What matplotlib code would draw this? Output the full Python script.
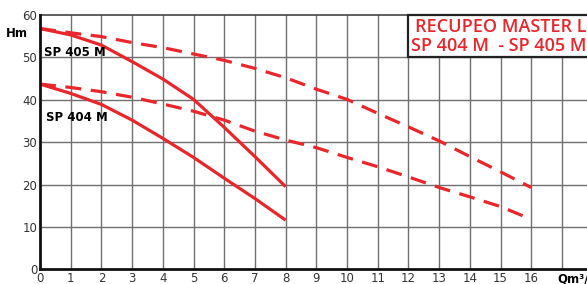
import matplotlib

matplotlib.use('Agg')
import matplotlib.pyplot as plt
from matplotlib.patches import Rectangle

# portate (m3/h) e prevalenze (m)
q_short = [0, 1, 2, 3, 4, 5, 6, 7, 8]
sp405_solid = [56.8, 55.3, 52.9, 49.0, 44.9, 40.1, 33.5, 26.6, 19.5]
sp404_solid = [43.7, 41.5, 38.9, 35.2, 30.9, 26.4, 21.5, 16.7, 11.6]

q_long = [0, 1, 2, 3, 4, 5, 6, 7, 8, 9, 10, 11, 12, 13, 14, 15, 16]
sp405_dash = [56.8, 55.8, 54.9, 53.5, 52.3, 50.8, 49.3, 47.4, 45.2, 42.5,
              40.1, 36.8, 33.6, 30.3, 26.6, 23.0, 19.3]
sp404_dash = [43.7, 42.9, 41.9, 40.6, 39.0, 37.3, 35.2, 32.6, 30.5, 28.7,
              26.4, 24.2, 21.8, 19.3, 17.1, 14.8, 11.8]

x_ticks = list(range(0, 17))
y_ticks = [0, 10, 20, 30, 40, 50, 60]
title_lines = ['RECUPEO MASTER LINE', 'SP 404 M  - SP 405 M']

RED = '#e8262b'
GRID = '#707070'

fig = plt.figure(figsize=(5.87, 2.84), dpi=100)
ax = fig.add_axes([40 / 587, 14.7 / 284, 1 - 40 / 587, 1 - (14.7 + 15) / 284])
ax.set_xlim(0, 547 / 30.7)
ax.set_ylim(0, 60)

for x in range(1, 18):
    ax.axvline(x, color=GRID, lw=1.0, zorder=1)
for y in y_ticks[1:-1]:
    ax.axhline(y, color=GRID, lw=1.0, zorder=1)

ax.plot(q_short, sp405_solid, color=RED, lw=2.3, solid_capstyle='butt', zorder=3)
ax.plot(q_short, sp404_solid, color=RED, lw=2.3, solid_capstyle='butt', zorder=3)
ax.plot(q_long, sp405_dash, color=RED, lw=2.3, dashes=(5, 3), zorder=3)
ax.plot(q_long, sp404_dash, color=RED, lw=2.3, dashes=(5, 3), zorder=3)

# riquadro titolo
ax.add_patch(Rectangle((12.0, 50), 7, 10, facecolor='white', edgecolor='#222222',
                       lw=1.6, zorder=4, clip_on=False))
ax.text(12.22, 57.2, title_lines[0], color=RED, fontsize=13, family='Open Sans',
        fontweight=600, va='center', ha='left', zorder=5)
ax.text(12.08, 52.8, title_lines[1], color=RED, fontsize=13, family='Open Sans',
        fontweight=600, va='center', ha='left', zorder=5)

ax.text(0.12, 51.2, 'SP 405 M', fontsize=8.5, fontweight='bold', va='center', zorder=5)
ax.text(0.18, 35.8, 'SP 404 M', fontsize=8.5, fontweight='bold', va='center', zorder=5)
ax.text(-0.75, 55.6, 'Hm', fontsize=8.5, fontweight='bold', ha='center', va='center')
ax.text(16.85, -2.2, 'Qm³/h', fontsize=8.5, fontweight='bold', ha='left', va='center',
        clip_on=False)

ax.set_xticks(x_ticks)
ax.set_yticks(y_ticks)
ax.tick_params(length=0, labelsize=8.5, labelcolor='#333333', pad=2)
for s in ['left', 'bottom']:
    ax.spines[s].set_linewidth(2.0)
    ax.spines[s].set_color('#111111')
    ax.spines[s].set_zorder(6)
ax.spines['top'].set_linewidth(1.2)
ax.spines['top'].set_color('#444444')
ax.spines['right'].set_visible(False)

fig.savefig('out.png', dpi=100)
